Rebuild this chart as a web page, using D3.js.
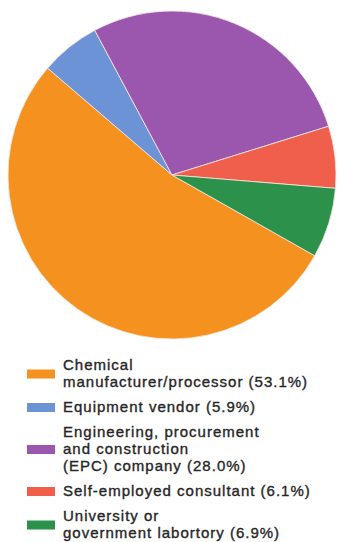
<!DOCTYPE html>
<html>
<head>
<meta charset="utf-8">
<script src="https://cdn.jsdelivr.net/npm/d3@7"></script>
<style>
  html, body { margin: 0; padding: 0; background: #fff; }
  svg { display: block; }
</style>
</head>
<body>
<svg id="chart" width="337" height="542"></svg>
<script>
// Respondents by type of employer (percent of total)
const categories = [
  "Chemical manufacturer/processor",
  "Equipment vendor",
  "Engineering, procurement and construction (EPC) company",
  "Self-employed consultant",
  "University or government labortory"
];
const shares = [53.1, 5.9, 28.0, 6.1, 6.9];
const legendLines = [
  ["Chemical", "manufacturer/processor (53.1%)"],
  ["Equipment vendor (5.9%)"],
  ["Engineering, procurement", "and construction", "(EPC) company (28.0%)"],
  ["Self-employed consultant (6.1%)"],
  ["University or", "government labortory (6.9%)"]
];
const colors = ["#f5911e", "#6b93d6", "#9b57ae", "#ef5f4b", "#2c914a"];

const svg = d3.select("#chart");

// Pie
const cx = 172, cy = 175, r = 164;
const start = 119.5 * Math.PI / 180;
const pie = d3.pie().sort(null).value(d => d)
  .startAngle(start).endAngle(start + 2 * Math.PI);
const arc = d3.arc().innerRadius(0).outerRadius(r);
const color = d3.scaleOrdinal().domain(categories).range(colors);

svg.append("g")
  .attr("transform", `translate(${cx},${cy})`)
  .selectAll("path")
  .data(pie(shares))
  .join("path")
  .attr("d", arc)
  .attr("fill", (d, i) => color(categories[i]))
  .attr("stroke", "#fbe9e6")
  .attr("stroke-width", 0.8);

// Legend
const lineH = 17, gapH = 25;
const legend = svg.append("g")
  .attr("font-family", "Liberation Sans, Arial, sans-serif")
  .attr("font-size", 15)
  .attr("fill", "#262626")
  .attr("stroke", "#262626")
  .attr("stroke-width", 0.35);
let y = 370;
legendLines.forEach((lines, i) => {
  const first = y;
  const last = y + (lines.length - 1) * lineH;
  const mid = (first + last) / 2 - 4.5;
  legend.append("rect")
    .attr("x", 27).attr("y", mid - 4.5)
    .attr("width", 28).attr("height", 9)
    .attr("stroke", "none")
    .attr("fill", color(categories[i]));
  const t = legend.append("text").attr("x", 63).attr("y", first)
    .attr("letter-spacing", 1.0);
  lines.forEach((ln, j) => {
    t.append("tspan").attr("x", 63).attr("y", first + j * lineH).text(ln);
  });
  y = last + gapH;
});
</script>
</body>
</html>
